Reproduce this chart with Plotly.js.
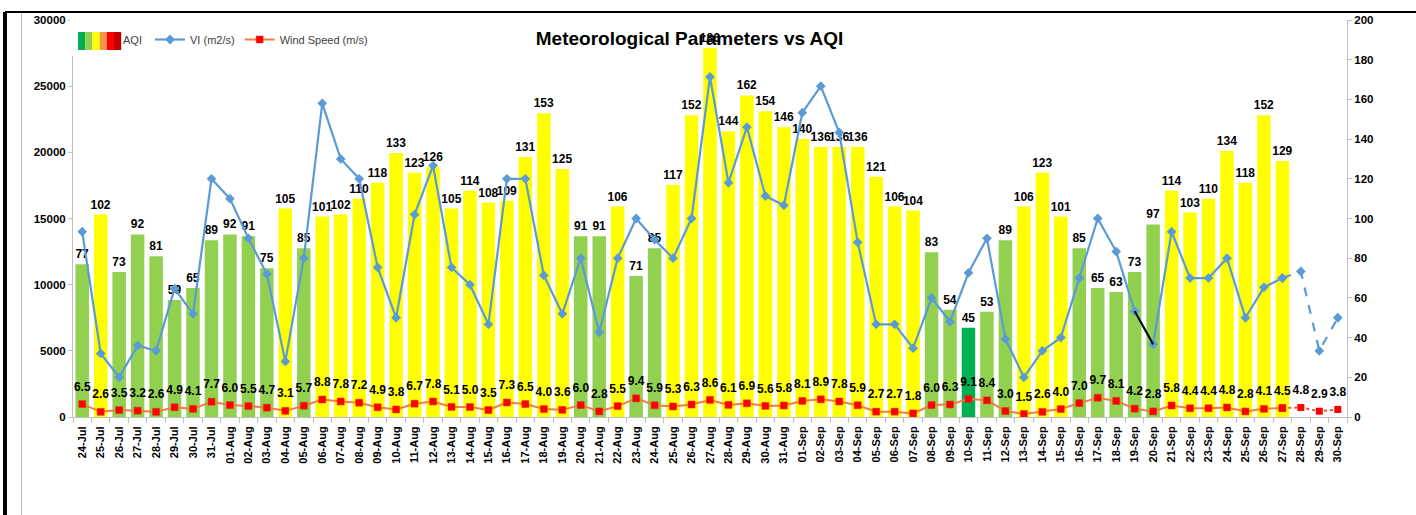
<!DOCTYPE html>
<html>
<head>
<meta charset="utf-8">
<script src="https://cdn.plot.ly/plotly-3.0.1.min.js"></script>
<style>html,body{margin:0;padding:0;background:#fff;}#chart{width:1416px;height:515px;}</style>
</head>
<body>
<div id="chart"></div>
<script>
const dates = ['24-Jul','25-Jul','26-Jul','27-Jul','28-Jul','29-Jul','30-Jul','31-Jul',
'01-Aug','02-Aug','03-Aug','04-Aug','05-Aug','06-Aug','07-Aug','08-Aug','09-Aug','10-Aug',
'11-Aug','12-Aug','13-Aug','14-Aug','15-Aug','16-Aug','17-Aug','18-Aug','19-Aug','20-Aug',
'21-Aug','22-Aug','23-Aug','24-Aug','25-Aug','26-Aug','27-Aug','28-Aug','29-Aug','30-Aug','31-Aug',
'01-Sep','02-Sep','03-Sep','04-Sep','05-Sep','06-Sep','07-Sep','08-Sep','09-Sep','10-Sep',
'11-Sep','12-Sep','13-Sep','14-Sep','15-Sep','16-Sep','17-Sep','18-Sep','19-Sep','20-Sep',
'21-Sep','22-Sep','23-Sep','24-Sep','25-Sep','26-Sep','27-Sep','28-Sep','29-Sep','30-Sep'];

const aqi = [77,102,73,92,81,59,65,89,
92,91,75,105,85,101,102,110,118,133,123,126,105,114,108,109,131,153,125,91,91,106,71,85,117,152,186,144,162,154,146,
140,136,136,136,121,106,104,83,54,45,53,89,106,123,101,85,65,63,73,97,114,103,110,134,118,152,129,null,null,null];

const vi = [14000,4800,3000,5400,5000,9700,7800,18000,
16500,13500,10800,4200,12000,23700,19500,18000,11300,7500,15300,19000,11300,10000,7000,18000,18000,10700,7800,12000,6400,12000,15000,13400,12000,15000,25700,17700,21900,16700,16000,
23000,25000,21500,13200,7000,7000,5200,9000,7200,10900,13500,5900,3000,5000,6000,10500,15000,12500,8000,5500,14000,10500,10500,12000,7500,9800,10500,11000,5000,7500];

const wind = [6.5,2.6,3.5,3.2,2.6,4.9,4.1,7.7,
6.0,5.5,4.7,3.1,5.7,8.8,7.8,7.2,4.9,3.8,6.7,7.8,5.1,5.0,3.5,7.3,6.5,4.0,3.6,6.0,2.8,5.5,9.4,5.9,5.3,6.3,8.6,6.1,6.9,5.6,5.8,
8.1,8.9,7.8,5.9,2.7,2.7,1.8,6.0,6.3,9.1,8.4,3.0,1.5,2.6,4.0,7.0,9.7,8.1,4.2,2.8,5.8,4.4,4.4,4.8,2.8,4.1,4.5,4.8,2.9,3.8];

const lastObserved = 65; // index of 27-Sep, last day with AQI
const blackSeg = [57, 58]; // 19-Sep -> 20-Sep segment drawn in black

function aqiColor(v){
  if (v === null) return 'rgba(0,0,0,0)';
  if (v <= 50) return '#00B050';
  if (v <= 100) return '#92D050';
  if (v <= 200) return '#FFFF00';
  if (v <= 300) return '#FF9900';
  return '#FF0000';
}

const FONT = 'Liberation Sans, Arial, sans-serif';

const viSolid = vi.map((v,i)=> i<=lastObserved ? v : null);
const viDash = vi.map((v,i)=> i>=lastObserved ? v : null);
const viBlack = vi.map((v,i)=> (i===blackSeg[0]||i===blackSeg[1]) ? v : null);
const windSolid = wind.map((v,i)=> i<=lastObserved ? v : null);
const windDot = wind.map((v,i)=> i>=lastObserved ? v : null);

const labelFont = {family:FONT, size:12, color:'#000', weight:'bold'};

const traces = [
  {type:'scatter', mode:'markers', name:'AQI\u00a0', x:[dates[0]], y:[null], yaxis:'y',
   marker:{color:'rgba(0,0,0,0)', size:1}, hoverinfo:'skip'},
  {type:'scatter', mode:'lines+markers', name:'VI (m2/s)', x:dates, y:viSolid, yaxis:'y2',
   line:{color:'#5B9BD5', width:2.2}, marker:{symbol:'diamond', size:7.5, color:'#5B9BD5'}},
  {type:'scatter', mode:'lines+markers', name:'VI forecast', x:dates, y:viDash, yaxis:'y2', showlegend:false,
   line:{color:'#5B9BD5', width:2.2, dash:'dash'}, marker:{symbol:'diamond', size:7.5, color:'#5B9BD5'}},
  {type:'scatter', mode:'lines', name:'VI seg', x:dates, y:viBlack, yaxis:'y2', showlegend:false,
   line:{color:'#000', width:2}},
  {type:'scatter', mode:'lines+markers', name:'Wind Speed (m/s)', x:dates, y:windSolid, yaxis:'y',
   line:{color:'#F07F3C', width:2}, marker:{symbol:'square', size:7, color:'#FF0000', line:{color:'#E03020', width:0.5}}},
  {type:'scatter', mode:'lines+markers', name:'Wind forecast', x:dates, y:windDot, yaxis:'y', showlegend:false,
   line:{color:'#F05030', width:2, dash:'dot'}, marker:{symbol:'square', size:7, color:'#FF0000'}},
  {type:'scatter', mode:'markers+text', name:'Wind labels', x:dates, y:wind, yaxis:'y', showlegend:false,
   marker:{size:15, color:'rgba(0,0,0,0)'}, hoverinfo:'skip',
   text:wind.map(v=> v.toFixed(1)), textposition:'top center', cliponaxis:false, textfont:labelFont},
  {type:'bar', name:'AQI bars', x:dates, y:aqi, yaxis:'y', showlegend:false,
   marker:{color:aqi.map(aqiColor)},
   text:aqi.map(v=> v===null?'':String(v)), textposition:'outside', constraintext:'none', cliponaxis:false,
   textfont:labelFont}
];

// pixel helpers for decorative frame (plot area 73..1347 x, 20..417 y)
const L=73, R=1347, T=20, B=417;
const px = x => (x-L)/(R-L);
const py = y => (B-y)/(B-T);
const swatchColors = ['#00B050','#92D050','#FFFF00','#F79646','#FF0000','#C00000'];
const shapes = [];
shapes.push({type:'line', xref:'paper', yref:'paper', x0:px(5), x1:px(1416), y0:py(12), y1:py(12), line:{color:'#000', width:2}});
shapes.push({type:'line', xref:'paper', yref:'paper', x0:px(5), x1:px(5), y0:py(12), y1:py(515), line:{color:'#000', width:4}});
shapes.push({type:'line', xref:'paper', yref:'paper', x0:px(21.5), x1:px(21.5), y0:py(13), y1:py(515), line:{color:'#BFBFBF', width:1}});
shapes.push({type:'rect', xref:'paper', yref:'paper', x0:px(70), x1:px(76), y0:py(20), y1:py(56), fillcolor:'#fff', line:{width:0}, layer:'above'});
swatchColors.forEach((c,k)=>{
  shapes.push({type:'rect', xref:'paper', yref:'paper', x0:px(78+7.2*k), x1:px(78+7.2*(k+1)), y0:py(50), y1:py(32),
    fillcolor:c, line:{width:0}, layer:'above'});
});

const axisCommon = {showline:true, linecolor:'#BFBFBF', linewidth:1, ticks:'outside', ticklen:4, tickcolor:'#BFBFBF',
  showgrid:false, zeroline:false, automargin:false, tickfont:{family:FONT, size:11.5, color:'#000', weight:'bold'}};

const layout = {
  width:1416, height:515,
  margin:{l:L, r:1416-R, t:T, b:515-B, pad:0},
  paper_bgcolor:'#fff', plot_bgcolor:'#fff',
  font:{family:FONT, color:'#000'},
  title:{text:'<b>Meteorological Parameters vs AQI</b>', font:{family:FONT, size:19, color:'#000'},
    x:0.487, xref:'container', y:1-38/515, yref:'container', yanchor:'middle', xanchor:'center'},
  bargap:0.27,
  showlegend:true,
  legend:{orientation:'h', x:px(83), y:py(25), xanchor:'left', yanchor:'top', bgcolor:'rgba(0,0,0,0)',
    font:{family:FONT, size:11, color:'#404040'}, itemwidth:30, traceorder:'normal'},
  xaxis:{type:'category', categoryorder:'array', categoryarray:dates, range:[-0.5, dates.length-0.5], tickangle:-90,
    showline:true, linecolor:'#BFBFBF', linewidth:1, ticks:'outside', ticklen:5, tickcolor:'#BFBFBF',
    tickson:'boundaries', showgrid:false, zeroline:false, ticklabelstandoff:4,
    tickfont:{family:FONT, size:11, color:'#000', weight:'bold'}, automargin:false},
  yaxis:Object.assign({}, axisCommon, {range:[0,200], dtick:20, side:'right'}),
  yaxis2:Object.assign({}, axisCommon, {range:[0,30000], dtick:5000, tickformat:'d', side:'left', overlaying:'y'}),
  shapes:shapes
};

Plotly.newPlot('chart', traces, layout, {staticPlot:true, displayModeBar:false});
</script>
</body>
</html>
